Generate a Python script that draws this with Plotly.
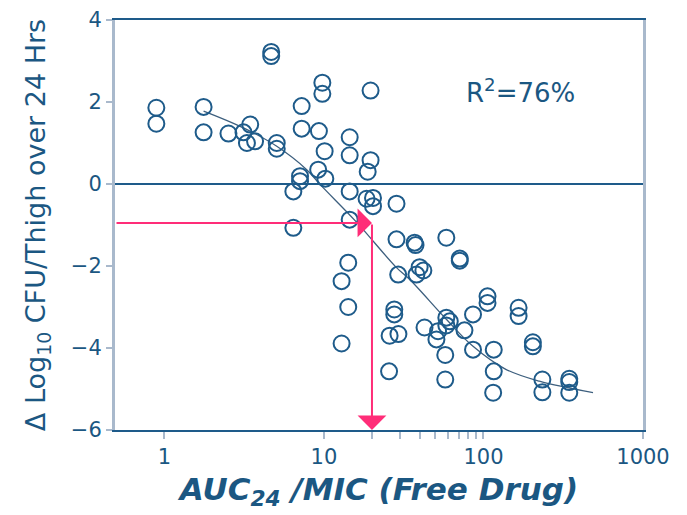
import numpy as np
import plotly.graph_objects as go

# ---- data ----
auc_mic = [0.89, 0.89, 1.76, 1.76, 2.52, 3.13, 3.45, 3.29, 3.70, 4.67, 4.67, 5.06, 5.06,
           7.25, 7.25, 9.77, 9.77, 9.30, 10.1, 9.2, 10.2, 7.08, 7.08, 6.43,
           14.5, 14.5, 19.6, 19.6, 18.8, 14.5, 18.5, 20.3, 20.3, 28.5, 14.5, 6.43,
           14.2, 12.9, 14.2, 12.9, 25.6, 25.8, 29.3, 27.6, 27.6, 29.2, 28.5,
           37.0, 37.5, 58.5, 71.0, 71.0, 39.8, 42.0, 38.0, 106, 106, 166, 166,
           86.0, 58.5, 61.5, 58.5, 42.7, 51.9, 50.7, 76.0, 86.0, 116, 204, 204,
           57.6, 116, 57.6, 234, 345, 345, 115, 234, 345]
delta_log = [1.86, 1.47, 1.88, 1.26, 1.23, 1.26, 1.45, 1.00, 1.04, 3.22, 3.12, 1.00, 0.86,
             1.90, 1.35, 2.47, 2.20, 1.29, 0.80, 0.35, 0.13, 0.19, 0.07, -0.18,
             1.14, 0.70, 2.28, 0.58, 0.30, -0.18, -0.36, -0.34, -0.54, -0.48, -0.87, -1.07,
             -1.92, -2.37, -3.00, -3.89, -4.57, -3.70, -3.66, -3.06, -3.18, -2.21, -1.35,
             -1.43, -1.49, -1.31, -1.82, -1.87, -2.03, -2.11, -2.21, -2.74, -2.90, -3.02, -3.22,
             -3.18, -3.26, -3.35, -3.45, -3.50, -3.59, -3.79, -3.57, -4.04, -4.04, -3.86, -3.96,
             -4.17, -4.57, -4.77, -4.77, -4.75, -4.83, -5.09, -5.08, -5.09]

fit_x = [1.76, 3.13, 5.06, 7.8, 9.45, 16.0, 28.5, 34.5, 58.5, 86.0, 138, 224, 486]
fit_y = [1.78, 1.37, 0.92, 0.35, -0.01, -0.93, -2.04, -2.33, -3.30, -3.96, -4.52, -4.81, -5.09]

target_x = 20       # AUC/MIC target
target_y = -0.95    # corresponding kill
x_min = 0.49
y_min = -6

x_tick_vals = [1, 10, 100, 1000]
x_tick_text = ["1", "10", "100", "1000"]
x_minor_vals = [20, 30, 40, 50, 60, 70, 80, 90]
y_tick_vals = [-6, -4, -2, 0, 2, 4]

DARK = "#1E5B8A"
TEXT = "#1B5782"
GRAY = "#A9B9CC"
PINK = "#FF2D78"
FONT = "Comic Sans MS, DejaVu Sans, sans-serif"

fig = go.Figure()
fig.add_trace(go.Scatter(x=fit_x, y=fit_y, mode="lines", line=dict(color="#3D5F7E", width=1.3, shape="spline"),
                         hoverinfo="skip", showlegend=False))
fig.add_trace(go.Scatter(x=auc_mic, y=delta_log, mode="markers",
                         marker=dict(symbol="circle-open", size=16, color=DARK, line=dict(width=2, color=DARK)),
                         showlegend=False))

# pink arrows
fig.add_annotation(x=np.log10(target_x), y=target_y, ax=np.log10(x_min), ay=target_y,
                   xref="x", yref="y", axref="x", ayref="y", text="", showarrow=True,
                   arrowhead=1, arrowsize=2.4, arrowwidth=2, arrowcolor=PINK)
fig.add_annotation(x=np.log10(target_x), y=y_min, ax=np.log10(target_x), ay=target_y,
                   xref="x", yref="y", axref="x", ayref="y", text="", showarrow=True,
                   arrowhead=1, arrowsize=2.4, arrowwidth=2, arrowcolor=PINK)

fig.add_annotation(x=np.log10(170), y=2.26, text="R<sup>2</sup>=76%", showarrow=False,
                   font=dict(family=FONT, size=26, color=TEXT))

fig.update_layout(
    width=687, height=515,
    margin=dict(l=107, r=52, t=12, b=93),
    plot_bgcolor="white", paper_bgcolor="white",
    font=dict(family=FONT, color=TEXT, size=21),
    xaxis=dict(type="log", range=[np.log10(x_min), 3.0],
               tickmode="array", tickvals=x_tick_vals, ticktext=x_tick_text,
               ticks="outside", ticklen=7, tickcolor=GRAY, tickwidth=2,
               minor=dict(tickmode="array", tickvals=x_minor_vals, ticks="outside",
                          ticklen=7, tickcolor=GRAY, tickwidth=2, showgrid=False),
               showgrid=False, showline=True, linecolor=DARK, linewidth=1.5, mirror=True,
               zeroline=False, tickfont=dict(size=21, color=TEXT), automargin=False,
               title=dict(text="<b><i>AUC<sub>24</sub> /MIC (Free Drug)</i></b>",
                          font=dict(size=31, color=TEXT), standoff=10)),
    yaxis=dict(range=[-6, 4], tickmode="array", tickvals=y_tick_vals,
               ticks="outside", ticklen=6, tickcolor=GRAY, tickwidth=2,
               showgrid=False, showline=True, linecolor=GRAY, linewidth=3, mirror=True,
               zeroline=True, zerolinecolor=DARK, zerolinewidth=1.5,
               tickfont=dict(size=21, color=TEXT), automargin=False,
               title=dict(text="Δ Log<sub>10</sub> CFU/Thigh over 24 Hrs",
                          font=dict(size=27, color=TEXT), standoff=18)),
)

fig.write_html("out.html")
